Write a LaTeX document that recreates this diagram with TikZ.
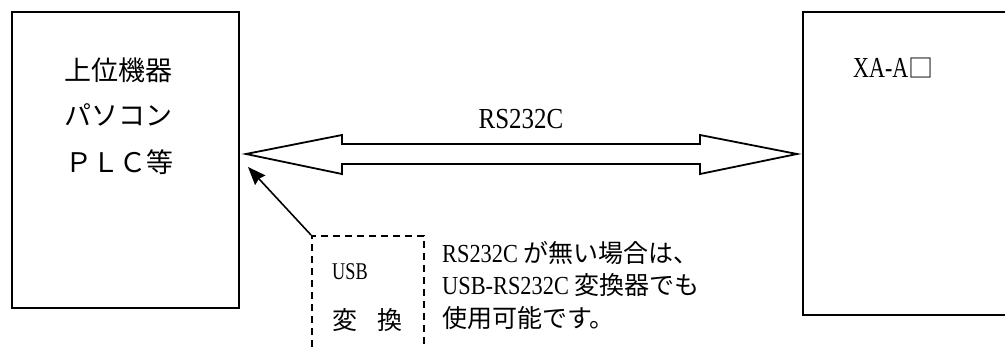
\documentclass[tikz,border=0pt]{standalone}
\usepackage{fontspec}
\setmainfont{Liberation Serif}
\newfontfamily\jp{Noto Sans CJK JP}
\newfontfamily\lat[FakeStretch=0.86]{Liberation Serif}
\newfontfamily\latn[FakeStretch=0.76]{Liberation Serif}
\usetikzlibrary{arrows.meta}
\begin{document}
\begin{tikzpicture}[x=1pt,y=-1pt,
  box/.style={draw,line width=2pt,inner sep=0pt,anchor=north west},
  dashbox/.style={draw,line width=1.6pt,dash pattern=on 7pt off 5pt,inner sep=0pt,anchor=north west},
  jtext/.style={inner sep=0pt,font=\jp\fontsize{27}{27}\selectfont},
  ltext/.style={inner sep=0pt,font=\lat\fontsize{29}{29}\selectfont},
  bigarrow/.style={draw,line width=1.8pt,line join=miter},
  ptr/.style={line width=1.6pt,-{Stealth[length=18pt,width=14pt,inset=2pt]}}]
\useasboundingbox (0,0) rectangle (1005,347);
\clip (0,0) rectangle (1005,347);
% boxes
\node[box,minimum width=227pt,minimum height=296pt] (host) at (10.5,11) {};
\node[box,minimum width=240pt,minimum height=303pt] (dev) at (802,11) {};
\node[dashbox,minimum width=112pt,minimum height=140pt] (usb) at (311,235) {};
% host texts
\node[jtext] (h1) at (118,70) {上位機器};
\node[jtext] (h2) at (118,115) {パソコン};
\node[jtext] (h3) at (119,162) {ＰＬＣ等};
% device text
\node[anchor=west,inner sep=0pt] (d1) at (853,68) {{\latn\fontsize{29}{29}\selectfont XA-A}{\jp\fontsize{25}{25}\selectfont □}};
% RS232C label
\node[ltext] (rs) at (521,119) {RS232C};
% double arrow
\coordinate (ltip) at (246,154);
\coordinate (rtip) at (797,154);
\draw[bigarrow] (ltip) -- (342,135) -- (342,144) -- (700,144) -- (700,135) -- (rtip)
  -- (700,174) -- (700,164) -- (342,164) -- (342,174) -- cycle;
% usb texts
\node[anchor=west,inner sep=0pt,font=\latn\fontsize{24}{24}\selectfont] (u1) at (332,272) {USB};
\node[anchor=west,inner sep=0pt,font=\jp\fontsize{25}{25}\selectfont] (u2) at (332,320) {変\hspace{20pt}換};
% pointer arrow
\coordinate (hit) at (248,167);
\draw[ptr] (usb.north west) -- (hit);
% note
\node[anchor=north west,inner sep=0pt,align=left,font=\jp\fontsize{25}{32.5}\selectfont] (note) at (442,241)
  {{\lat\fontsize{26}{32.5}\selectfont RS232C} が無い場合は、\\{\lat\fontsize{26}{32.5}\selectfont USB-RS232C} 変換器でも\\使用可能です。};
\end{tikzpicture}
\end{document}
